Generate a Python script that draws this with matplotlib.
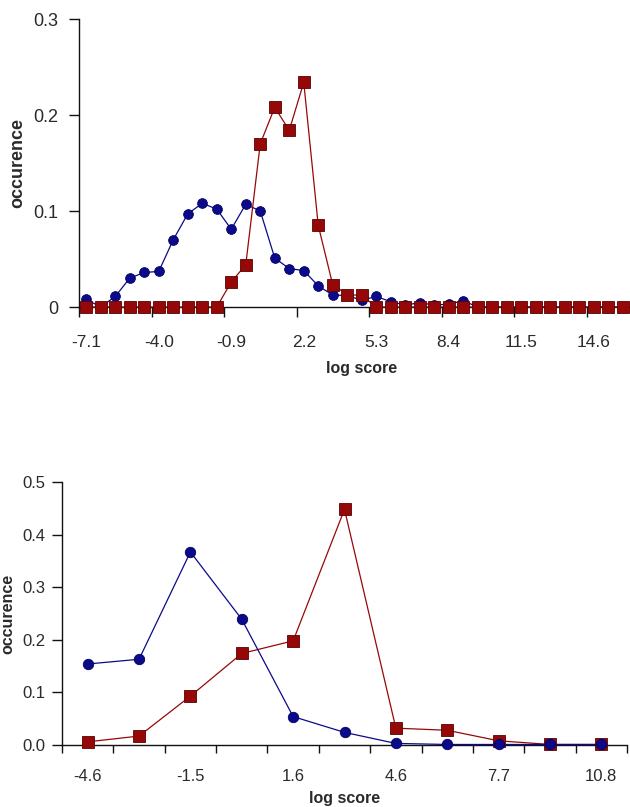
import matplotlib
matplotlib.use("Agg")
import matplotlib.pyplot as plt
import numpy as np

plt.rcParams['font.family'] = ['Liberation Sans', 'DejaVu Sans']

# ---- Top chart data ----
top_tick_labels = ["-7.1", "-4.0", "-0.9", "2.2", "5.3", "8.4", "11.5", "14.6"]
top_blue = [0.008, 0.0, 0.011, 0.030, 0.036, 0.037, 0.070, 0.097, 0.108, 0.102,
            0.081, 0.107, 0.100, 0.051, 0.040, 0.038, 0.022, 0.0125, 0.012, 0.007,
            0.011, 0.0055, 0.002, 0.0045, 0.002, 0.003, 0.0065, 0.0, 0.0, 0.0,
            0.0, 0.0, 0.0, 0.0, 0.0, 0.0, 0.0, 0.0]
top_red = [0.0, 0.0, 0.0, 0.0, 0.0, 0.0, 0.0, 0.0, 0.0, 0.0,
           0.026, 0.044, 0.170, 0.208, 0.184, 0.234, 0.085, 0.023, 0.013, 0.012,
           0.0, 0.0, 0.0, 0.0, 0.0, 0.0, 0.0, 0.0, 0.0, 0.0,
           0.0, 0.0, 0.0, 0.0, 0.0, 0.0, 0.0, 0.0]

# ---- Bottom chart data ----
bot_tick_labels = ["-4.6", "-1.5", "1.6", "4.6", "7.7", "10.8"]
bot_blue = [0.154, 0.163, 0.367, 0.239, 0.054, 0.024, 0.003, 0.001, 0.001, 0.001, 0.001]
bot_red = [0.006, 0.017, 0.093, 0.174, 0.198, 0.448, 0.032, 0.028, 0.008, 0.001, 0.001]

BLUE = "#0a0a8a"
BLUE_EDGE = "#000060"
RED = "#960808"
RED_EDGE = "#5a0000"
TXT = "#2a2a2a"

W, H = 630, 807
fig = plt.figure(figsize=(W / 100, H / 100), dpi=100)


def style_axes(ax):
    for s in ("top", "right"):
        ax.spines[s].set_visible(False)
    for s in ("left", "bottom"):
        ax.spines[s].set_linewidth(1.0)
        ax.spines[s].set_color("#111111")


# ---------- Top ----------
ax1 = fig.add_axes([79 / W, (H - 307) / H, (W - 79) / W, (307 - 19) / H])
n1 = len(top_blue)
x1 = np.arange(n1)
ax1.plot(x1, top_blue, color=BLUE, lw=0.9, marker="o", ms=7, mfc=BLUE,
         mec=BLUE_EDGE, mew=0.6, zorder=3, clip_on=False)
ax1.plot(x1, top_red, color=RED, lw=0.9, marker="s", ms=8, mfc=RED,
         mec=RED_EDGE, mew=0.6, zorder=4, clip_on=False)
ax1.set_xlim(-0.5, n1 - 0.5)
ax1.set_ylim(0, 0.3)
style_axes(ax1)
ax1.set_yticks([0, 0.1, 0.2, 0.3])
ax1.set_yticklabels(["0", "0.1", "0.2", "0.3"])
ax1.set_xticks(np.arange(-0.5, n1 - 0.5, 5))
ax1.set_xticklabels([])
ax1.set_xticks(np.arange(0, n1, 5)[:len(top_tick_labels)], minor=True)
ax1.set_xticklabels(top_tick_labels, minor=True)
ax1.tick_params(axis="x", which="major", direction="out", length=7, width=1, color="#111111")
ax1.tick_params(axis="x", which="minor", length=0, pad=20, labelsize=12.5, labelcolor=TXT)
ax1.tick_params(axis="y", direction="out", length=7, width=1, color="#111111",
                labelsize=13, labelcolor=TXT, pad=8)
ax1.set_ylabel("occurence", fontsize=13, fontweight="bold", color=TXT)
ax1.yaxis.set_label_coords((26 - 79) / (W - 79), 0.5)
ax1.set_xlabel("log score", fontsize=11.5, fontweight="bold", color=TXT)
ax1.xaxis.set_label_coords((362 - 79) / (W - 79), -(361 - 307) / (307 - 19))

# ---------- Bottom ----------
ax2 = fig.add_axes([62 / W, (H - 745) / H, (627 - 62) / W, (745 - 482) / H])
n2 = len(bot_blue)
x2 = np.arange(n2)
ax2.plot(x2, bot_red, color=RED, lw=0.9, marker="s", ms=8.5, mfc=RED,
         mec=RED_EDGE, mew=0.6, zorder=3, clip_on=False)
ax2.plot(x2, bot_blue, color=BLUE, lw=0.9, marker="o", ms=7.5, mfc=BLUE,
         mec=BLUE_EDGE, mew=0.6, zorder=4, clip_on=False)
ax2.set_xlim(-0.5, n2 - 0.5)
ax2.set_ylim(0, 0.5)
style_axes(ax2)
ax2.set_yticks([0, 0.1, 0.2, 0.3, 0.4, 0.5])
ax2.set_yticklabels(["0.0", "0.1", "0.2", "0.3", "0.4", "0.5"])
ax2.set_xticks(np.arange(-0.5, n2, 1.0))
ax2.set_xticklabels([])
ax2.set_xticks(np.arange(0, n2, 2), minor=True)
ax2.set_xticklabels(bot_tick_labels, minor=True)
ax2.tick_params(axis="x", which="major", direction="out", length=6, width=1, color="#111111")
ax2.tick_params(axis="x", which="minor", length=0, pad=17, labelsize=12, labelcolor=TXT)
ax2.tick_params(axis="y", direction="out", length=7, width=1, color="#111111",
                labelsize=12, labelcolor=TXT, pad=5)
ax2.set_ylabel("occurence", fontsize=11.5, fontweight="bold", color=TXT)
ax2.yaxis.set_label_coords((15 - 62) / (627 - 62), 0.5)
ax2.set_xlabel("log score", fontsize=11.5, fontweight="bold", color=TXT)
ax2.xaxis.set_label_coords(0.5, -(791 - 745) / (745 - 482))

fig.savefig("out.png", dpi=100)
